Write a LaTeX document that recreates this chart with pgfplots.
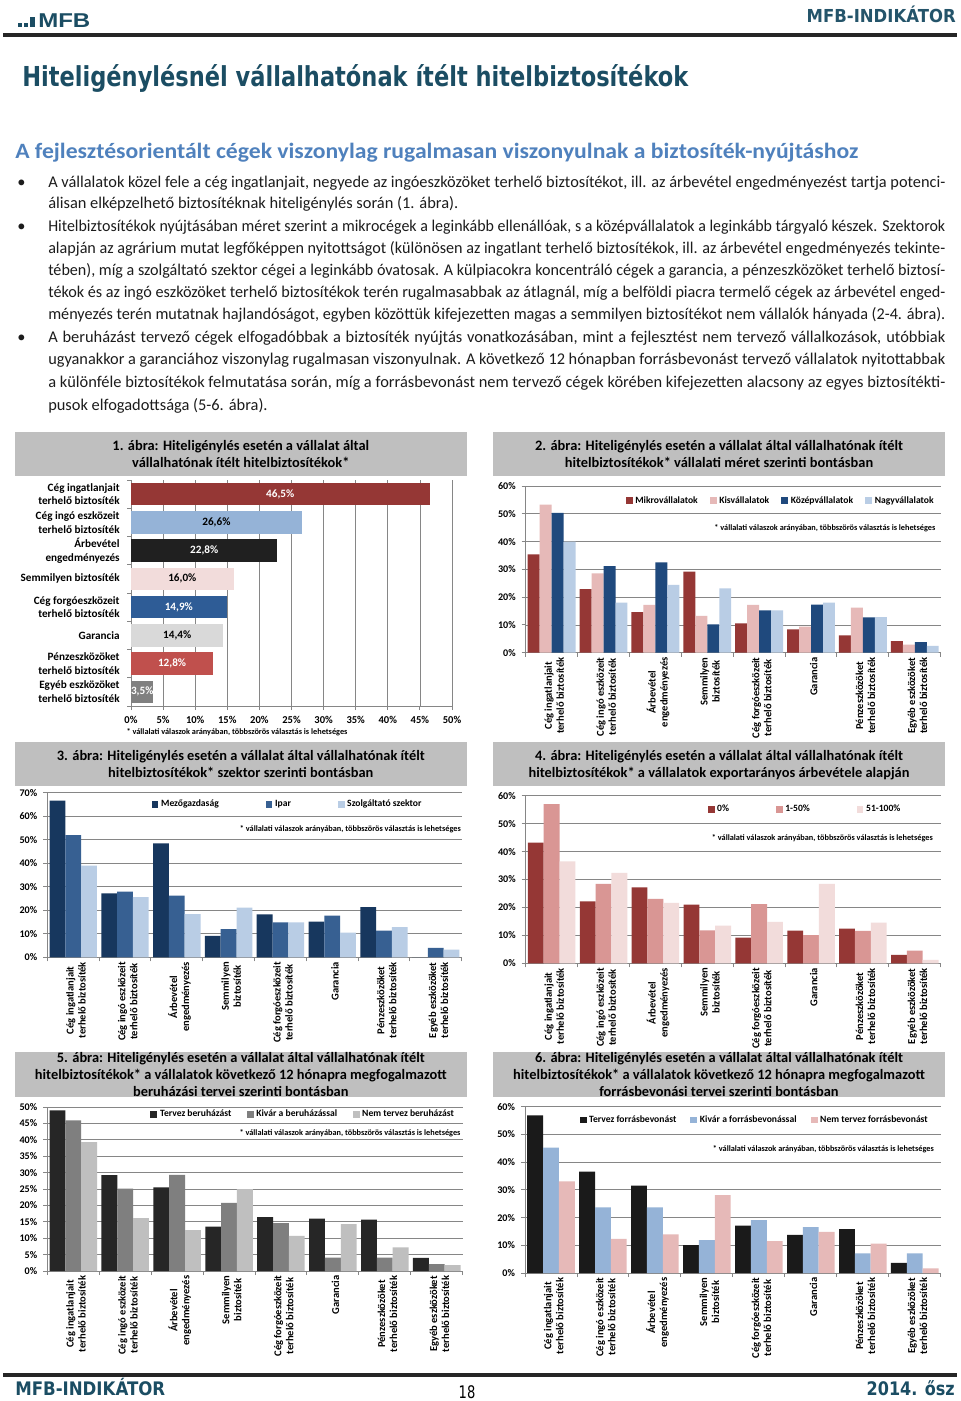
\documentclass[border=0pt]{standalone}
\usepackage{fontspec}
\setmainfont{Carlito}
\newfontfamily\dejavu{DejaVu Sans}
\newfontfamily\libsans{Liberation Sans}
\usepackage{graphicx}
\usepackage{pgfplots}
\pgfplotsset{compat=1.18}
\definecolor{teal1}{RGB}{27,77,99}
\definecolor{teal2}{RGB}{36,84,106}
\definecolor{subblue}{RGB}{79,129,189}
\definecolor{bodytxt}{RGB}{28,28,28}
\definecolor{boxgray}{RGB}{191,191,191}
\definecolor{axc}{RGB}{134,134,134}
\definecolor{gridc}{RGB}{134,134,134}
\definecolor{dred}{RGB}{149,55,53}
\definecolor{lblue}{RGB}{149,179,215}
\definecolor{nblack}{RGB}{32,32,32}
\definecolor{lpink}{RGB}{242,220,219}
\definecolor{mblue}{RGB}{46,92,150}
\definecolor{lgray}{RGB}{217,217,217}
\definecolor{mred}{RGB}{192,80,77}
\definecolor{mgray}{RGB}{128,128,128}
\definecolor{pinkb}{RGB}{230,185,184}
\definecolor{dblue}{RGB}{31,73,125}
\definecolor{pblue}{RGB}{185,205,229}
\definecolor{navy}{RGB}{23,55,94}
\definecolor{sblue}{RGB}{55,96,146}
\definecolor{rose}{RGB}{217,150,148}
\definecolor{cfa}{RGB}{38,38,38}
\definecolor{cfb}{RGB}{127,127,127}
\definecolor{cfc}{RGB}{191,191,191}
\definecolor{csa}{RGB}{26,26,26}
\newcommand\bodyfont{\fontsize{12.3}{14}\selectfont}
\newcommand\ctfont{\fontsize{10.8}{13}\selectfont\bfseries}
\newcommand\fnfont{\fontsize{6.2}{7}\selectfont\bfseries}
\newlength\jlw
\newcommand\jline[1]{\settowidth\jlw{#1}\ifdim\jlw>672.75pt\relax\resizebox{672.75pt}{\height}{#1}\else\makebox[672.75pt][s]{#1}\fi}
\pgfplotsset{
  sq/.style={legend image code/.code={\fill[##1] (0pt,-2.6pt) rectangle (5.2pt,2.6pt);}},
  bf/.style={ybar, bar width=0.231, bar shift=#1, draw=none, sq},
  bt/.style={ybar, bar width=0.305, bar shift=#1, draw=none, sq},
  colchart/.style={
    scale only axis, anchor=south west,
    axis x line*=bottom, axis y line*=left,
    axis line style={draw=axc, line width=0.7pt},
    tick style={draw=axc, line width=0.7pt},
    major tick length=0pt, minor tick length=3pt, tick align=outside,
    xmin=-0.5, xmax=7.5, ymin=0,
    xtick={0,...,7}, minor xtick={-0.5,0.5,...,7.5},
    xticklabels={Cég ingatlanjait\\terhelő biztosíték, Cég ingó eszközeit\\terhelő biztosíték, Árbevétel\\engedményezés, Semmilyen\\biztosíték, Cég forgóeszközeit\\terhelő biztosíték, Garancia, Pénzeszközöket\\terhelő biztosíték, Egyéb eszközöket\\terhelő biztosíték},
    xticklabel style={rotate=90, anchor=east, align=center, font=\fontsize{7.9}{9}\selectfont\bfseries, yshift=-2pt},
    yticklabel style={font=\fontsize{7.6}{9}\selectfont\bfseries, xshift=-4pt},
    ymajorgrids, major grid style={draw=gridc, line width=0.6pt},
    legend style={draw=none, fill=none, anchor=east, font=\fontsize{7.2}{8}\selectfont\bfseries, inner sep=0pt},
  }
}
\begin{document}
\begin{tikzpicture}
\begin{scope}[x=0.75pt,y=-0.75pt]
\fill[white] (0,0) rectangle (960,1401);
\path[use as bounding box] (0,0) rectangle (960,1401);
% header
\fill[teal1] (18,23) rectangle (22,27);
\fill[teal1] (24,23) rectangle (28,27);
\fill[teal1] (30,17) rectangle (34.5,27);
\node[anchor=base west, inner sep=0, text=teal1, font=\libsans\bfseries\fontsize{15}{16}\selectfont] at (38,27.5) {\resizebox{39pt}{\height}{MFB}};
\node[anchor=base east, inner sep=0, text=teal2, font=\dejavu\bfseries\fontsize{13.4}{15}\selectfont] at (956,23) {\resizebox{111.75pt}{\height}{MFB-INDIKÁTOR}};
\draw[line width=3pt, draw=black!85] (3,35) -- (957,35);
\node[anchor=base west, inner sep=0, text=teal1, font=\dejavu\bfseries\fontsize{20.6}{24}\selectfont] at (22,87) {\resizebox{499.5pt}{\height}{Hiteligénylésnél vállalhatónak ítélt hitelbiztosítékok}};
\node[anchor=base west, inner sep=0, text=subblue, font=\bfseries\fontsize{16.4}{19}\selectfont] at (15,159) {\resizebox{632.25pt}{\height}{A fejlesztésorientált cégek viszonylag rugalmasan viszonyulnak a biztosíték-nyújtáshoz}};
% body
\begin{scope}[every node/.style={anchor=base west, inner sep=0, font=\bodyfont, text=bodytxt}]
\node at (17,187.3) {•};
\node at (17,231.7) {•};
\node at (17,342.3) {•};
\node at (48,187.3) {\jline{A vállalatok közel fele a cég ingatlanjait, negyede az ingóeszközöket terhelő biztosítékot, ill. az árbevétel engedményezést tartja potenci-}};
\node at (48,209) {álisan elképzelhető biztosítéknak hiteligénylés során (1. ábra).};
\node at (48,231.7) {\jline{Hitelbiztosítékok nyújtásában méret szerint a mikrocégek a leginkább ellenállóak, s a középvállalatok a leginkább tárgyaló készek. Szektorok}};
\node at (48,253.3) {\jline{alapján az agrárium mutat legfőképpen nyitottságot (különösen az ingatlant terhelő biztosítékok, ill. az árbevétel engedményezés tekinte-}};
\node at (48,275.7) {\jline{tében), míg a szolgáltató szektor cégei a leginkább óvatosak. A külpiacokra koncentráló cégek a garancia, a pénzeszközöket terhelő biztosí-}};
\node at (48,298) {\jline{tékok és az ingó eszközöket terhelő biztosítékok terén rugalmasabbak az átlagnál, míg a belföldi piacra termelő cégek az árbevétel enged-}};
\node at (48,320) {\jline{ményezés terén mutatnak hajlandóságot, egyben közöttük kifejezetten magas a semmilyen biztosítékot nem vállalók hányada (2-4. ábra).}};
\node at (48,342.3) {\jline{A beruházást tervező cégek elfogadóbbak a biztosíték nyújtás vonatkozásában, mint a fejlesztést nem tervező vállalkozások, utóbbiak}};
\node at (48,364.7) {\jline{ugyanakkor a garanciához viszonylag rugalmasan viszonyulnak. A következő 12 hónapban forrásbevonást tervező vállalatok nyitottabbak}};
\node at (48,387.3) {\jline{a különféle biztosítékok felmutatása során, míg a forrásbevonást nem tervező cégek körében kifejezetten alacsony az egyes biztosítékti-}};
\node at (48,410) {pusok elfogadottsága (5-6. ábra).};
\end{scope}
% title boxes
\fill[boxgray] (15,432) rectangle (466.5,475.5);
\fill[boxgray] (493,432) rectangle (945,475.5);
\fill[boxgray] (15,742) rectangle (466.5,786);
\fill[boxgray] (493,742) rectangle (945,786);
\fill[boxgray] (15,1052) rectangle (466.5,1097);
\fill[boxgray] (493,1052) rectangle (945,1097);
\begin{scope}[every node/.style={anchor=base, inner sep=0, font=\ctfont, text=black}]
\node at (240.8,450) {1. ábra: Hiteligénylés esetén a vállalat által};
\node at (240.8,467.5) {vállalhatónak ítélt hitelbiztosítékok*};
\node at (719,450) {2. ábra: Hiteligénylés esetén a vállalat által vállalhatónak ítélt};
\node at (719,467.5) {hitelbiztosítékok* vállalati méret szerinti bontásban};
\node at (240.8,760) {3. ábra: Hiteligénylés esetén a vállalat által vállalhatónak ítélt};
\node at (240.8,777.5) {hitelbiztosítékok* szektor szerinti bontásban};
\node at (719,760) {4. ábra: Hiteligénylés esetén a vállalat által vállalhatónak ítélt};
\node at (719,777.5) {hitelbiztosítékok* a vállalatok exportarányos árbevétele alapján};
\node at (240.8,1062.8) {5. ábra: Hiteligénylés esetén a vállalat által vállalhatónak ítélt};
\node at (240.8,1079.5) {hitelbiztosítékok* a vállalatok következő 12 hónapra megfogalmazott};
\node at (240.8,1096) {beruházási tervei szerinti bontásban};
\node at (719,1062.8) {6. ábra: Hiteligénylés esetén a vállalat által vállalhatónak ítélt};
\node at (719,1079.5) {hitelbiztosítékok* a vállalatok következő 12 hónapra megfogalmazott};
\node at (719,1096) {forrásbevonási tervei szerinti bontásban};
\end{scope}
% footnotes
\begin{scope}[every node/.style={inner sep=0, font=\fnfont, text=black}]
\node[anchor=base] at (237,734) {* vállalati válaszok arányában, többszörös választás is lehetséges};
\node[anchor=base east] at (935.5,530) {* vállalati válaszok arányában, többszörös választás is lehetséges};
\node[anchor=base east] at (461,831) {* vállalati válaszok arányában, többszörös választás is lehetséges};
\node[anchor=base east] at (933,840) {* vállalati válaszok arányában, többszörös választás is lehetséges};
\node[anchor=base east] at (460.7,1135) {* vállalati válaszok arányában, többszörös választás is lehetséges};
\node[anchor=base east] at (934,1151) {* vállalati válaszok arányában, többszörös választás is lehetséges};
\end{scope}
% footer
\draw[line width=3pt, draw=black!85] (3,1375) -- (957,1375);
\node[anchor=base west, inner sep=0, text=teal1, font=\dejavu\bfseries\fontsize{14}{16}\selectfont] at (15,1395) {\resizebox{112.5pt}{\height}{MFB-INDIKÁTOR}};
\node[anchor=base east, inner sep=0, text=teal1, font=\dejavu\bfseries\fontsize{14}{16}\selectfont] at (955,1395) {\resizebox{66pt}{\height}{2014. ősz}};
\node[anchor=base, inner sep=0, text=black, font=\dejavu\fontsize{13}{15}\selectfont] at (467,1398) {\resizebox{12.5pt}{\height}{18}};
\end{scope}
% ---------- chart 1
\begin{axis}[
  scale only axis, anchor=south west, at={(98.25pt,-529.5pt)},
  width=240.75pt, height=169.5pt,
  xmin=0, xmax=50, ymin=-0.5, ymax=7.5,
  axis x line*=bottom, axis y line*=left,
  axis line style={draw=axc, line width=0.7pt},
  tick style={draw=axc, line width=0.7pt},
  major tick length=0pt, minor tick length=3pt, tick align=outside,
  xtick={0,5,...,50}, minor xtick={0,5,...,50},
  xticklabels={0\%,5\%,10\%,15\%,20\%,25\%,30\%,35\%,40\%,45\%,50\%},
  ytick={0,...,7}, minor ytick={-0.5,0.5,...,7.5},
  yticklabels={Egyéb eszközöket\\terhelő biztosíték, Pénzeszközöket\\terhelő biztosíték, Garancia, Cég forgóeszközeit\\terhelő biztosíték, Semmilyen biztosíték, Árbevétel\\engedményezés, Cég ingó eszközeit\\terhelő biztosíték, Cég ingatlanjait\\terhelő biztosíték},
  yticklabel style={align=right, font=\fontsize{8.4}{10.2}\selectfont\bfseries, xshift=-5pt},
  xticklabel style={font=\fontsize{7.9}{9}\selectfont\bfseries, yshift=-4pt},
  xmajorgrids, major grid style={draw=gridc, line width=0.6pt},
]
\addplot[xbar, bar width=0.79, bar shift=0pt, fill=dred, draw=none] coordinates {(46.5,7)};
\addplot[xbar, bar width=0.79, bar shift=0pt, fill=lblue, draw=none] coordinates {(26.6,6)};
\addplot[xbar, bar width=0.79, bar shift=0pt, fill=nblack, draw=none] coordinates {(22.8,5)};
\addplot[xbar, bar width=0.79, bar shift=0pt, fill=lpink, draw=none] coordinates {(16.0,4)};
\addplot[xbar, bar width=0.79, bar shift=0pt, fill=mblue, draw=none] coordinates {(14.9,3)};
\addplot[xbar, bar width=0.79, bar shift=0pt, fill=lgray, draw=none] coordinates {(14.4,2)};
\addplot[xbar, bar width=0.79, bar shift=0pt, fill=mred, draw=none] coordinates {(12.8,1)};
\addplot[xbar, bar width=0.79, bar shift=0pt, fill=mgray, draw=none] coordinates {(3.5,0)};
\addplot[only marks, mark=none, point meta=explicit symbolic, nodes near coords={\pgfplotspointmeta\%}, nodes near coords style={anchor=center, text=white, font=\fontsize{8.4}{10}\selectfont\bfseries}] table[x expr=\thisrow{v}/2, y=c, meta=l] {
v c l
46.5 7 46,5
22.8 5 22,8
14.9 3 14,9
12.8 1 12,8
3.5 0 3,5
};
\addplot[only marks, mark=none, point meta=explicit symbolic, nodes near coords={\pgfplotspointmeta\%}, nodes near coords style={anchor=center, text=black, font=\fontsize{8.4}{10}\selectfont\bfseries}] table[x expr=\thisrow{v}/2, y=c, meta=l] {
v c l
26.6 6 26,6
16.0 4 16,0
14.4 2 14,4
};
\end{axis}
% ---------- chart 2
\begin{axis}[colchart, at={(394.28pt,-489.53pt)}, width=311.25pt, height=125.03pt,
  ymax=60, ytick={0,10,...,60}, minor ytick={0,10,...,60},
  yticklabels={0\%,10\%,20\%,30\%,40\%,50\%,60\%},
  legend columns=4,
  legend style={at={(axis description cs:0.99,0.912)}, /tikz/every even column/.append style={column sep=7pt}}]
\addplot[bf=-0.3465, fill=dred] coordinates {(0,35.4) (1,22.9) (2,14.6) (3,29.2) (4,10.6) (5,8.4) (6,6.2) (7,4.2)};
\addplot[bf=-0.1155, fill=pinkb] coordinates {(0,53.3) (1,28.6) (2,17.2) (3,13.3) (4,17.2) (5,9.4) (6,16.2) (7,2.9)};
\addplot[bf=0.1155, fill=dblue] coordinates {(0,50.3) (1,31.2) (2,32.5) (3,10.2) (4,15.2) (5,17.3) (6,12.7) (7,3.8)};
\addplot[bf=0.3465, fill=pblue] coordinates {(0,40.0) (1,18.0) (2,24.4) (3,23.2) (4,15.2) (5,18.0) (6,12.8) (7,2.5)};
\legend{Mikrovállalatok,Kisvállalatok,Középvállalatok,Nagyvállalatok}
\end{axis}
% ---------- chart 3
\begin{axis}[colchart, at={(35.48pt,-717.98pt)}, width=310.8pt, height=123.45pt,
  ymax=70, ytick={0,10,...,70}, minor ytick={0,10,...,70},
  yticklabels={0\%,10\%,20\%,30\%,40\%,50\%,60\%,70\%},
  legend columns=3,
  legend style={at={(axis description cs:0.91,0.931)}, /tikz/every even column/.append style={column sep=33pt}}]
\addplot[bt=-0.305, fill=navy] coordinates {(0,66.6) (1,27.2) (2,48.5) (3,9.1) (4,18.3) (5,15.2) (6,21.3) (7,0)};
\addplot[bt=0, fill=sblue] coordinates {(0,52.0) (1,27.9) (2,26.2) (3,12.0) (4,14.9) (5,17.7) (6,11.3) (7,4.0)};
\addplot[bt=0.305, fill=pblue] coordinates {(0,39.0) (1,25.6) (2,18.4) (3,21.1) (4,14.9) (5,10.5) (6,12.8) (7,3.3)};
\legend{Mezőgazdaság,Ipar,Szolgáltató szektor}
\end{axis}
% ---------- chart 4
\begin{axis}[colchart, at={(394.28pt,-722.48pt)}, width=311.25pt, height=125.7pt,
  ymax=60, ytick={0,10,...,60}, minor ytick={0,10,...,60},
  yticklabels={0\%,10\%,20\%,30\%,40\%,50\%,60\%},
  legend columns=3,
  legend style={at={(axis description cs:0.91,0.92)}, /tikz/every even column/.append style={column sep=33pt}}]
\addplot[bt=-0.305, fill=dred] coordinates {(0,43.2) (1,22.2) (2,27.2) (3,21.0) (4,9.2) (5,11.7) (6,12.4) (7,3.0)};
\addplot[bt=0, fill=rose] coordinates {(0,57.0) (1,28.4) (2,23.1) (3,11.8) (4,21.2) (5,10.1) (6,11.6) (7,4.5)};
\addplot[bt=0.305, fill=lpink] coordinates {(0,36.5) (1,32.4) (2,21.6) (3,13.5) (4,14.8) (5,28.4) (6,14.6) (7,1.2)};
\legend{0\%,1-50\%,51-100\%}
\end{axis}
% ---------- chart 5
\begin{axis}[colchart, at={(35.48pt,-953.25pt)}, width=311.55pt, height=123pt,
  ymax=50, ytick={0,5,...,50}, minor ytick={0,5,...,50},
  yticklabels={0\%,5\%,10\%,15\%,20\%,25\%,30\%,35\%,40\%,45\%,50\%},
  legend columns=3,
  legend style={at={(axis description cs:0.986,0.957)}, /tikz/every even column/.append style={column sep=9.5pt}}]
\addplot[bt=-0.305, fill=cfa] coordinates {(0,49.0) (1,29.2) (2,25.5) (3,13.5) (4,16.4) (5,16.0) (6,15.7) (7,4.0)};
\addplot[bt=0, fill=cfb] coordinates {(0,45.9) (1,25.1) (2,29.3) (3,20.8) (4,14.6) (5,4.1) (6,4.1) (7,2.1)};
\addplot[bt=0.305, fill=cfc] coordinates {(0,39.3) (1,16.1) (2,12.5) (3,25.0) (4,10.7) (5,14.3) (6,7.2) (7,1.8)};
\legend{Tervez beruházást,Kivár a beruházással,Nem tervez beruházást}
\end{axis}
% ---------- chart 6
\begin{axis}[colchart, at={(393.75pt,-954.75pt)}, width=311.78pt, height=124.73pt,
  ymax=60, ytick={0,10,...,60}, minor ytick={0,10,...,60},
  yticklabels={0\%,10\%,20\%,30\%,40\%,50\%,60\%},
  legend columns=3,
  legend style={at={(axis description cs:0.976,0.92)}, /tikz/every even column/.append style={column sep=8.5pt}}]
\addplot[bt=-0.305, fill=csa] coordinates {(0,56.9) (1,36.6) (2,31.5) (3,10.1) (4,17.1) (5,13.8) (6,15.8) (7,3.7)};
\addplot[bt=0, fill=lblue] coordinates {(0,45.2) (1,23.7) (2,23.7) (3,11.9) (4,19.1) (5,16.6) (6,7.1) (7,7.1)};
\addplot[bt=0.305, fill=pinkb] coordinates {(0,33.1) (1,12.3) (2,13.9) (3,28.1) (4,11.5) (5,14.8) (6,10.6) (7,1.7)};
\legend{Tervez forrásbevonást,Kivár a forrásbevonással,Nem tervez forrásbevonást}
\end{axis}
\end{tikzpicture}
\end{document}
